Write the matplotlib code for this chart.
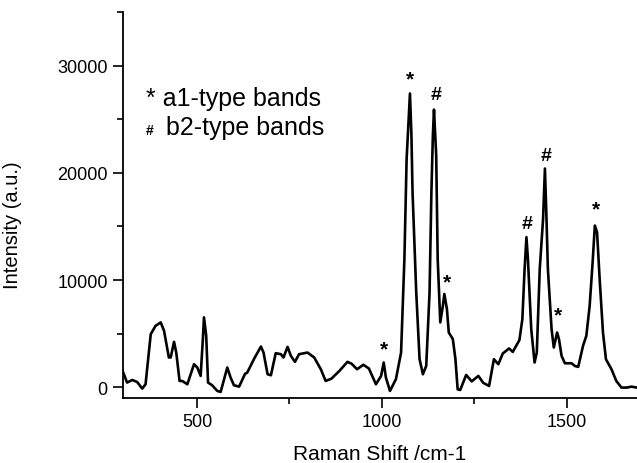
import matplotlib
matplotlib.use("Agg")
import matplotlib.pyplot as plt
from matplotlib.ticker import MultipleLocator

# ---- data ----
raman_shift = [297, 311, 325, 338, 352, 361, 375, 388, 402, 411, 424, 429, 438, 444,
               453, 460, 474, 492, 501, 510, 516, 519, 525, 530, 541, 555, 564, 582,
               591, 600, 614, 630, 636, 654, 673, 680, 691, 700, 713, 727, 734, 745,
               754, 765, 776, 799, 817, 835, 848, 864, 885, 907, 918, 933, 950, 965,
               984, 998, 1005, 1011, 1022, 1038, 1052, 1061, 1067, 1073, 1076, 1080,
               1083, 1093, 1102, 1111, 1120, 1129, 1134, 1138, 1141, 1147, 1151, 1158,
               1165, 1169, 1176, 1181, 1192, 1199, 1205, 1212, 1228, 1243, 1261, 1274,
               1290, 1303, 1315, 1327, 1344, 1354, 1372, 1380, 1386, 1391, 1395, 1404,
               1413, 1419, 1427, 1436, 1441, 1445, 1449, 1459, 1465, 1474, 1479, 1486,
               1495, 1513, 1522, 1531, 1544, 1553, 1562, 1570, 1576, 1582, 1589, 1598,
               1606, 1621, 1634, 1648, 1662, 1675, 1690]
intensity = [1700, 440, 680, 500, -120, 280, 4950, 5730, 6050, 5270, 2780, 2780, 4240, 3240,
             590, 590, 280, 2150, 1840, 1060, 4500, 6520, 4800, 440, 190, -340, -440, 1840,
             900, 190, 60, 1250, 1370, 2620, 3800, 3240, 1215, 1120, 3180, 3085, 2780, 3770,
             2930, 2370, 3085, 3240, 2780, 1680, 590, 810, 1520, 2370, 2200, 1680, 2100, 1750,
             280, 1060, 2310, 900, -340, 750, 3240, 11970, 21300, 25370, 27400, 23500,
             18200, 8850, 2620, 1215, 1990, 8850, 18200, 23500, 25900, 21630, 11970, 6050,
             7600, 8700, 7290, 5110, 4490, 2620, -190, -250, 1150, 550, 1060, 420,
             120, 2620, 2150, 3150, 3620, 3300, 4400, 6360, 11030, 14000, 11970, 5420,
             2310, 3240, 11030, 15700, 20400, 16000, 11030, 5420, 3710, 5110, 4490, 2930,
             2240, 2240, 1990, 1900, 3860, 4800, 7600, 11660, 15080, 14460, 10100, 5110,
             2620, 1680, 590, -30, -30, 60, -30]

# band markers (symbol, x, y of label)
mark_symbols = ["*", "*", "#", "*", "#", "#", "*", "*"]
mark_x = [1007, 1075, 1148, 1175, 1392, 1443, 1476, 1579]
mark_y = [3550, 28800, 27300, 9800, 15240, 21600, 6730, 16640]

x_ticks = [500, 1000, 1500]
y_ticks = [0, 10000, 20000, 30000]

plt.rcParams['font.family'] = ['Liberation Sans', 'DejaVu Sans']

fig = plt.figure(figsize=(6.37, 4.64), dpi=100)
ax = fig.add_axes([123/637, 65/464, 514/637, 386/464])

ax.plot(raman_shift, intensity, color='black', lw=1.9, solid_joinstyle='round')

ax.set_xlim(300, 1690)
ax.set_ylim(-1000, 35000)
ax.set_xticks(x_ticks)
ax.set_yticks(y_ticks)
ax.xaxis.set_minor_locator(MultipleLocator(250))
ax.yaxis.set_minor_locator(MultipleLocator(5000))

for s in ['top', 'right']:
    ax.spines[s].set_visible(False)
for s in ['left', 'bottom']:
    ax.spines[s].set_linewidth(1.3)

ax.tick_params(which='major', direction='out', length=7, width=1.2, labelsize=13, pad=4)
ax.tick_params(which='minor', direction='out', length=4, width=1.2)

ax.set_xlabel('Raman Shift /cm-1', fontsize=15, labelpad=10)
ax.set_ylabel('Intensity (a.u.)', fontsize=14.5)
ax.yaxis.set_label_coords(-0.196, 0.45)

for sym, mx, my in zip(mark_symbols, mark_x, mark_y):
    if sym == '*':
        ax.text(mx, my, sym, ha='center', va='center', fontsize=15, fontweight='bold')
    else:
        ax.text(mx, my, sym, ha='center', va='center', fontsize=14, fontweight='bold')

# legend-like notes
ax.text(362, 26370, '* a1-type bands', fontsize=18, ha='left', va='baseline')
ax.text(362, 23650, '#', fontsize=10, fontweight='bold', ha='left', va='baseline')
ax.text(416, 23650, 'b2-type bands', fontsize=18, ha='left', va='baseline')

fig.savefig('out.png', dpi=100)
